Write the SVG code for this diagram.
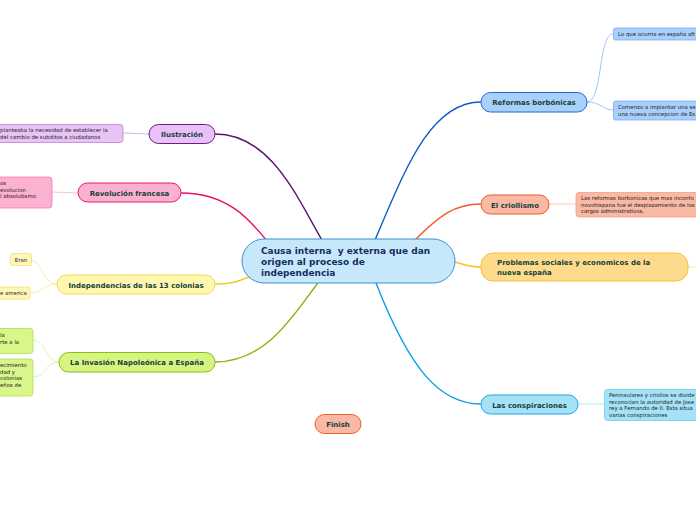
<svg xmlns="http://www.w3.org/2000/svg" width="696" height="520" viewBox="0 0 696 520">
<style>
.t{font-family:"DejaVu Sans",Verdana,sans-serif;font-weight:bold;font-size:7px;fill:#163f38}
.s{font-family:"DejaVu Sans",Verdana,sans-serif;font-size:5.4px;fill:#222}
.c{fill:none;stroke-width:1.4}
.cc{fill:none;stroke-width:0.8}
</style>
<rect width="696" height="520" fill="#fff"/>
<g id="connectors">
<path class="c" stroke="#5a1670" d="M215,134 C272,134 298,200 322,240"/>
<path class="c" stroke="#ec0f6c" d="M181,193 C228,193 250,220 268,242"/>
<path class="c" stroke="#e8cc00" d="M215,284 C235,284 240,280 252,276"/>
<path class="c" stroke="#8ab010" d="M215,362 C268,362 295,312 318,283"/>
<path class="c" stroke="#0d5bc8" d="M375,240 C405,170 430,102 481,102"/>
<path class="c" stroke="#f05a28" d="M415,240 C440,215 455,204 481,204"/>
<path class="c" stroke="#f8c020" d="M455,262 C466,265 470,267 481,267"/>
<path class="c" stroke="#0aa0e8" d="M376,283 C410,370 440,404 481,404"/>
<path class="cc" stroke="#8ab8f0" d="M587,102 C603,102 598,34 613,34"/>
<path class="cc" stroke="#8ab8f0" d="M587,102 C600,102 604,110 613,110"/>
<path class="cc" stroke="#f9c0b0" d="M549,204 L576,204"/>
<path class="cc" stroke="#fde0a0" d="M688,267 L696,267"/>
<path class="cc" stroke="#a5e2f8" d="M578,404 L604,404"/>
<path class="cc" stroke="#c8a0d8" d="M149,134 L123,133"/>
<path class="cc" stroke="#f8b0d0" d="M78,193 L52,192"/>
<path class="cc" stroke="#f4e890" d="M57,284 C42,284 42,260 31,260"/>
<path class="cc" stroke="#f4e890" d="M57,284 C44,284 42,293 30,293"/>
<path class="cc" stroke="#d8f0a0" d="M59,362 C45,362 46,340 33,340"/>
<path class="cc" stroke="#d8f0a0" d="M59,362 C45,362 46,377 33,377"/>
</g>
<g id="central">
<rect x="242" y="239" width="213" height="44" rx="22" fill="#c5e9fb" stroke="#3d8fd0" stroke-width="1"/>
<text class="t" style="font-size:9px;fill:#1b2b5e"><tspan x="261" y="254">Causa interna&#160; y externa que dan</tspan><tspan x="261" y="265">origen al proceso de</tspan><tspan x="261" y="276">independencia</tspan></text>
</g>
<g id="ilustracion">
<rect x="149" y="124.5" width="66" height="19" rx="9.5" fill="#e9c0f8" stroke="#6b1f7a"/>
<text class="t" x="182" y="137" text-anchor="middle">Ilustración</text>
</g>
<g id="ilustracion-c">
<rect x="-10" y="124.5" width="133" height="18" rx="3" fill="#e8c4f6" stroke="#c47ed6" stroke-width="0.8"/>
<text class="s"><tspan x="0" y="132">planteaba la necesidad de establecer la</tspan><tspan x="0" y="139">del cambio de subditos a ciudadanos</tspan></text>
</g>
<g id="revolucion">
<rect x="78" y="183" width="103" height="19" rx="9.5" fill="#fbb0cf" stroke="#e8186e"/>
<text class="t" x="129.5" y="195.5" text-anchor="middle">Revolución francesa</text>
</g>
<g id="revolucion-c">
<rect x="-10" y="177" width="62" height="31" rx="3" fill="#fdb1d1" stroke="#f07ab0" stroke-width="0.8"/>
<text class="s"><tspan x="0" y="185">os</tspan><tspan x="0" y="191.5">evolucion</tspan><tspan x="0" y="198">l absolutismo</tspan></text>
</g>
<g id="independencias">
<rect x="57" y="275" width="158" height="19" rx="9.5" fill="#fff7b0" stroke="#f0dc50"/>
<text class="t" x="136" y="287.5" text-anchor="middle">Independencias de las 13 colonias</text>
</g>
<g id="indep-c1">
<rect x="10.5" y="253.5" width="21" height="12" rx="2" fill="#fff7b8" stroke="#f4e070" stroke-width="0.8"/>
<text class="s" x="21" y="261.5" text-anchor="middle">Eran</text>
</g>
<g id="indep-c2">
<rect x="-10" y="287" width="40" height="12" rx="2" fill="#fff7b8" stroke="#f4e070" stroke-width="0.8"/>
<text class="s" x="0" y="295">e america</text>
</g>
<g id="invasion">
<rect x="59" y="352.5" width="156" height="19.5" rx="9.5" fill="#d5f580" stroke="#8cbc1a"/>
<text class="t" x="137" y="365" text-anchor="middle">La Invasión Napoleónica a España</text>
</g>
<g id="invasion-c1">
<rect x="-10" y="328.5" width="43" height="25" rx="3" fill="#d8f68a" stroke="#b0e050" stroke-width="0.8"/>
<text class="s"><tspan x="0" y="337">la</tspan><tspan x="0" y="344">rte a la</tspan></text>
</g>
<g id="invasion-c2">
<rect x="-10" y="359" width="43" height="37" rx="3" fill="#d8f68a" stroke="#b0e050" stroke-width="0.8"/>
<text class="s"><tspan x="0" y="367">ecimiento</tspan><tspan x="0" y="373.5">dad y</tspan><tspan x="0" y="380">colonias</tspan><tspan x="0" y="386.5">eños de</tspan></text>
</g>
<g id="reformas">
<rect x="481" y="92.5" width="106" height="19.5" rx="9.5" fill="#a9cffb" stroke="#1f6bd0"/>
<text class="t" x="534" y="105" text-anchor="middle">Reformas borbónicas</text>
</g>
<g id="reformas-c1">
<rect x="613.5" y="28" width="95" height="12" rx="2" fill="#a9cffb" stroke="#7aaaf0" stroke-width="0.8"/>
<text class="s" x="618" y="36">Lo que ocurria en españa afi</text>
</g>
<g id="reformas-c2">
<rect x="613.5" y="101" width="95" height="19" rx="2" fill="#a9cffb" stroke="#7aaaf0" stroke-width="0.8"/>
<text class="s"><tspan x="618" y="109">Comenzo a implantar una se</tspan><tspan x="618" y="115.5">una nueva concepcion de Es</tspan></text>
</g>
<g id="criollismo">
<rect x="481" y="195" width="68" height="19" rx="9.5" fill="#f9b9a5" stroke="#e85a2a"/>
<text class="t" x="515" y="207.5" text-anchor="middle">El criollismo</text>
</g>
<g id="criollismo-c">
<rect x="576" y="192.5" width="130" height="24.5" rx="3" fill="#f9b9a5" stroke="#f5a080" stroke-width="0.8"/>
<text class="s"><tspan x="581" y="200">Las reformas borbonicas que mas inconfo</tspan><tspan x="581" y="206.5">novohispana fue el desplazamiento de los</tspan><tspan x="581" y="213">cargos administrativos,</tspan></text>
</g>
<g id="problemas">
<rect x="481" y="253" width="207" height="28" rx="12" fill="#fedb8c" stroke="#f8c030"/>
<text class="t"><tspan x="497" y="265">Problemas sociales y economicos de la</tspan><tspan x="497" y="275">nueva españa</tspan></text>
</g>
<g id="conspiraciones">
<rect x="481" y="395" width="97" height="19" rx="9.5" fill="#a5e2f8" stroke="#1aa8e0"/>
<text class="t" x="529.5" y="407.5" text-anchor="middle">Las conspiraciones</text>
</g>
<g id="conspiraciones-c">
<rect x="604.5" y="389.5" width="100" height="31" rx="3" fill="#a5e2f8" stroke="#6fcbf0" stroke-width="0.8"/>
<text class="s"><tspan x="609" y="397">Peninsulares y criollos se divide</tspan><tspan x="609" y="403.5">reconocian la autoridad de Jose</tspan><tspan x="609" y="410">rey a Fernando de II. Esta situa</tspan><tspan x="609" y="416.5">varias conspiraciones</tspan></text>
</g>
<g id="finish">
<rect x="315" y="414.5" width="46" height="19" rx="9.5" fill="#f9b9a5" stroke="#f06030"/>
<text class="t" x="338" y="427" text-anchor="middle">Finish</text>
</g>
</svg>
